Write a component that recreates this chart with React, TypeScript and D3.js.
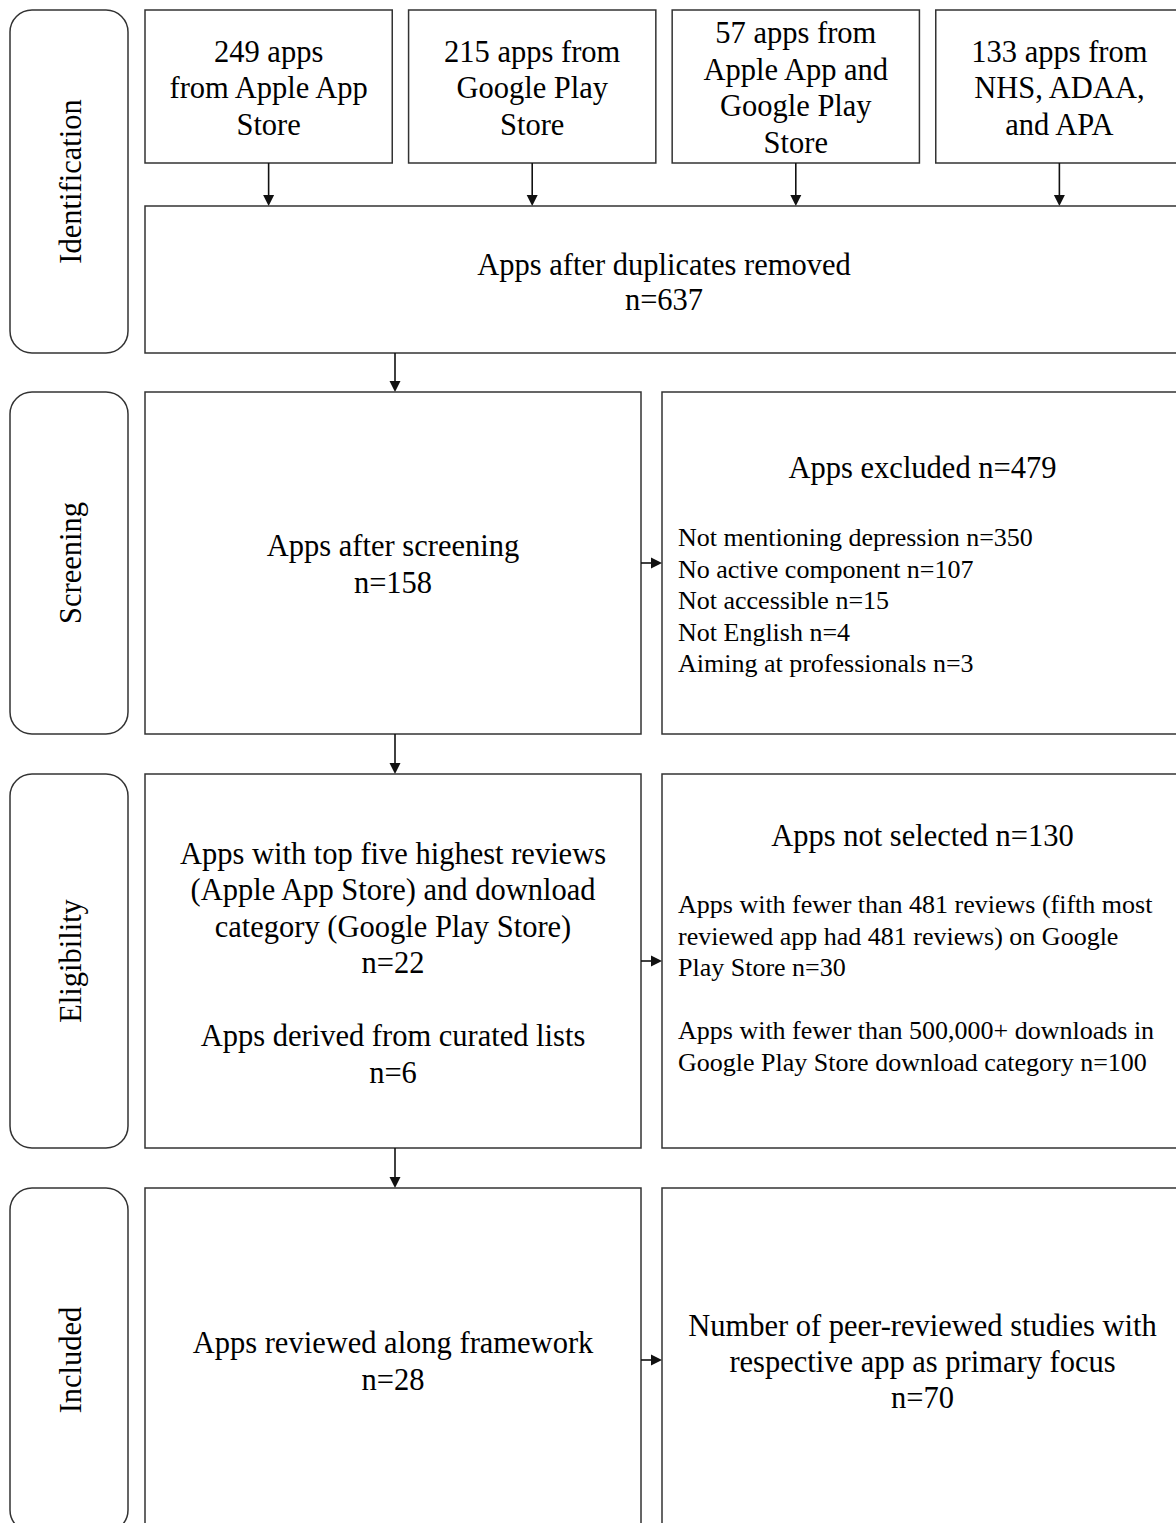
import * as d3 from "d3";

const stages = ["Identification", "Screening", "Eligibility", "Included"];

const sources = [
  ["249 apps", "from Apple App", "Store"],
  ["215 apps from", "Google Play", "Store"],
  ["57 apps from", "Apple App and", "Google Play", "Store"],
  ["133 apps from", "NHS, ADAA,", "and APA"],
];

const dedup = ["Apps after duplicates removed", "n=637"];

const mainBoxes = [
  ["Apps after screening", "n=158"],
  [
    "Apps with top five highest reviews",
    "(Apple App Store) and download",
    "category (Google Play Store)",
    "n=22",
    "",
    "Apps derived from curated lists",
    "n=6",
  ],
  ["Apps reviewed along framework", "n=28"],
];

const sideTitles = ["Apps excluded n=479", "Apps not selected n=130", ""];

const sideLists = [
  [
    "Not mentioning depression n=350",
    "No active component n=107",
    "Not accessible n=15",
    "Not English n=4",
    "Aiming at professionals n=3",
  ],
  [
    "Apps with fewer than 481 reviews (fifth most",
    "reviewed app had 481 reviews) on Google",
    "Play Store n=30",
    "",
    "Apps with fewer than 500,000+ downloads in",
    "Google Play Store download category n=100",
  ],
  [],
];

const sideCentered = [
  [],
  [],
  ["Number of peer-reviewed studies with", "respective app as primary focus", "n=70"],
];

const W = 1176;
const H = 1523;
const FONT = "'Liberation Serif', 'Times New Roman', serif";
const STROKE = "#333";
const BIG = 30.5;
const SMALL = 26;

// row extents (top, bottom) for the four stages
const rows: [number, number][] = [
  [10, 353],
  [392, 734],
  [774, 1148],
  [1188, 1532],
];

const x = d3.scaleLinear().domain([0, 1]).range([145, 1183]);
const topCols = d3.scaleBand<number>().domain(d3.range(sources.length)).range([145, 1183]).paddingInner(0.062);

const Arrow = ({ x1, y1, x2, y2 }: { x1: number; y1: number; x2: number; y2: number }) => {
  const a = Math.atan2(y2 - y1, x2 - x1);
  const s = 11;
  const w = 5.5;
  const bx = x2 - s * Math.cos(a);
  const by = y2 - s * Math.sin(a);
  const pts = [
    [x2, y2],
    [bx + w * Math.sin(a), by - w * Math.cos(a)],
    [bx - w * Math.sin(a), by + w * Math.cos(a)],
  ];
  return (
    <g>
      <line x1={x1} y1={y1} x2={bx} y2={by} stroke="#111" strokeWidth={1.6} />
      <polygon points={pts.map((p) => p.join(",")).join(" ")} fill="#111" />
    </g>
  );
};

const Lines = ({ lines, cx, cy, size, lh, anchor = "middle" }: any) => {
  const y0 = cy - ((lines.length - 1) * lh) / 2;
  return (
    <text fontFamily={FONT} fontSize={size} fill="#000" textAnchor={anchor}>
      {lines.map((l: string, i: number) => (
        <tspan key={i} x={cx} y={y0 + i * lh} dy="0.35em">
          {l}
        </tspan>
      ))}
    </text>
  );
};

export default function App() {
  const leftX0 = x(0);
  const leftX1 = 641;
  const rightX0 = 662;
  const rightX1 = x(1);
  const midLeft = (leftX0 + leftX1) / 2;
  const midRight = (rightX0 + rightX1) / 2;
  const topBoxBottom = 163;
  const dedupTop = 206;

  return (
    <svg width={W} height={H} style={{ position: "absolute", left: 0, top: 0, background: "#fff" }}>
      {/* stage labels */}
      {stages.map((s, i) => {
        const [y0, y1] = rows[i];
        const cy = (y0 + y1) / 2;
        return (
          <g key={s}>
            <rect x={10} y={y0} width={118} height={y1 - y0} rx={22} fill="none" stroke={STROKE} strokeWidth={1.5} />
            <text
              transform={`translate(70,${cy}) rotate(-90)`}
              fontFamily={FONT}
              fontSize={BIG}
              textAnchor="middle"
              dy="0.35em"
              fill="#000"
            >
              {s}
            </text>
          </g>
        );
      })}

      {/* source boxes */}
      {sources.map((lines, i) => {
        const bx = topCols(i)!;
        const bw = topCols.bandwidth();
        return (
          <g key={i}>
            <rect x={bx} y={rows[0][0]} width={bw} height={topBoxBottom - rows[0][0]} fill="none" stroke={STROKE} strokeWidth={1.5} />
            <Lines lines={lines} cx={bx + bw / 2} cy={(rows[0][0] + topBoxBottom) / 2 + 1} size={BIG} lh={36.5} />
            <Arrow x1={bx + bw / 2} y1={topBoxBottom} x2={bx + bw / 2} y2={dedupTop} />
          </g>
        );
      })}

      {/* dedup box */}
      <rect x={leftX0} y={dedupTop} width={rightX1 - leftX0} height={rows[0][1] - dedupTop} fill="none" stroke={STROKE} strokeWidth={1.5} />
      <Lines lines={dedup} cx={664} cy={(dedupTop + rows[0][1]) / 2 + 2} size={BIG} lh={35} />

      {mainBoxes.map((lines, k) => {
        const [y0, y1] = rows[k + 1];
        const cy = (y0 + y1) / 2;
        const prevBottom = rows[k][1];
        const title = sideTitles[k];
        const list = sideLists[k];
        const centered = sideCentered[k];
        return (
          <g key={k}>
            <Arrow x1={395} y1={prevBottom} x2={395} y2={y0} />
            <rect x={leftX0} y={y0} width={leftX1 - leftX0} height={y1 - y0} fill="none" stroke={STROKE} strokeWidth={1.5} />
            <rect x={rightX0} y={y0} width={rightX1 - rightX0} height={y1 - y0} fill="none" stroke={STROKE} strokeWidth={1.5} />
            <Lines lines={lines} cx={midLeft} cy={k === 1 ? 962.5 : cy + 1} size={BIG} lh={36.5} />
            <Arrow x1={leftX1} y1={k === 2 ? 1360 : cy} x2={rightX0} y2={k === 2 ? 1360 : cy} />
            {title && <Lines lines={[title]} cx={midRight} cy={y0 + (k === 0 ? 75 : 61)} size={BIG} lh={36} />}
            {list.length > 0 && (
              <Lines
                lines={list}
                cx={678}
                cy={y0 + (k === 0 ? 208 : 209)}
                size={SMALL}
                lh={31.5}
                anchor="start"
              />
            )}
            {centered.length > 0 && <Lines lines={centered} cx={midRight} cy={1361} size={BIG} lh={36} />}
          </g>
        );
      })}
    </svg>
  );
}
